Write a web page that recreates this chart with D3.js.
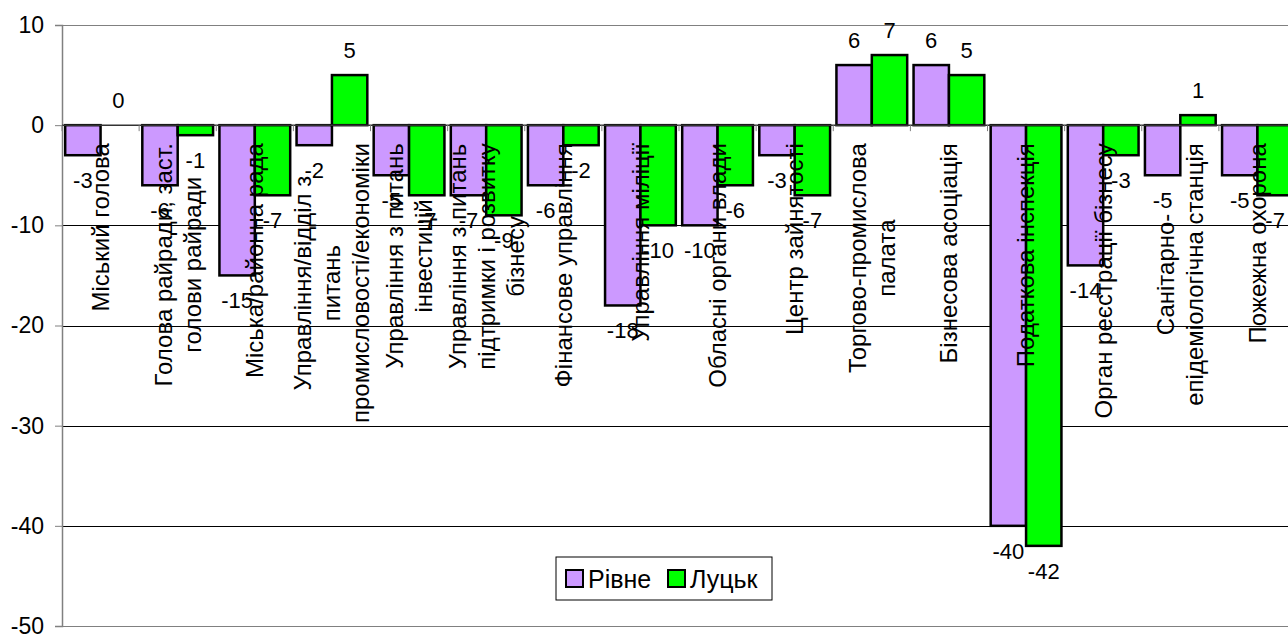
<!DOCTYPE html>
<html lang="uk">
<head>
    <meta charset="UTF-8">
    <title>Рівне / Луцьк</title>
    <script src="https://d3js.org/d3.v7.min.js"></script>
    <style>
        body { margin: 0; background: #fff; }
        svg { display: block; font-family: "Liberation Sans", Arial, sans-serif; }
        .grid line { stroke: #000; stroke-width: 1px; shape-rendering: crispEdges; }
        .bar { stroke: #000; stroke-width: 2.5px; }
        .ylab { font-size: 23px; fill: #000; }
        .cat { font-size: 24px; fill: #000; }
        .val { font-size: 22px; fill: #000; }
        .leg { font-size: 25px; fill: #000; }
    </style>
</head>
<body>
    <div id="chart"></div>

    <script>
        // categories, one array of lines for each label
        const categories = [
            ["Міський голова"],
            ["Голова райради, заст.", "голови райради"],
            ["Міська/районна рада"],
            ["Управління/відділ з", "питань", "промисловості/економіки"],
            ["Управління з питань", "інвестицій"],
            ["Управління з питань", "підтримки і розвитку", "бізнесу"],
            ["Фінансове управління"],
            ["Управління міліції"],
            ["Обласні органи влади"],
            ["Центр зайнятості"],
            ["Торгово-промислова", "палата"],
            ["Бізнесова асоціація"],
            ["Податкова інспекція"],
            ["Орган реєстрації бізнесу"],
            ["Санітарно-", "епідеміологічна станція"],
            ["Пожежна охорона"]
        ];
        const seriesNames = ["Рівне", "Луцьк"];
        const rivne = [-3, -6, -15, -2, -5, -7, -6, -18, -10, -3, 6, 6, -40, -14, -5, -5];
        const lutsk = [0, -1, -7, 5, -7, -9, -2, -10, -6, -7, 7, 5, -42, -3, 1, -7];
        const yTicks = [10, 0, -10, -20, -30, -40, -50];
        const colors = ["#CC99FF", "#00FF00"];

        const width = 1288, height = 635;
        const margin = {top: 25, left: 62, bottom: 9};
        const plotRight = 1296;

        const svg = d3.select("#chart").append("svg")
            .attr("width", width)
            .attr("height", height);

        const y = d3.scaleLinear().domain([-50, 10]).range([height - margin.bottom, margin.top]);
        const x0 = d3.scaleBand().domain(d3.range(categories.length)).range([margin.left, plotRight]);
        const x1 = d3.scaleBand().domain(seriesNames)
            .range([0, x0.bandwidth()]).paddingOuter(0.09);

        // gridlines
        svg.append("g").attr("class", "grid")
            .selectAll("line").data(yTicks).enter().append("line")
            .attr("x1", margin.left).attr("x2", plotRight)
            .attr("y1", d => Math.round(y(d)) + 0.5).attr("y2", d => Math.round(y(d)) + 0.5)
            .style("stroke", d => (d === 10 || d === -50) ? "#808080" : "#000");

        // bars
        const rows = categories.map((c, i) => ({i: i, vals: [rivne[i], lutsk[i]]}));
        const group = svg.selectAll(".cg").data(rows).enter().append("g")
            .attr("transform", d => "translate(" + x0(d.i) + ",0)");

        group.selectAll("rect")
            .data(d => d.vals.map((v, k) => ({v: v, k: k})))
            .enter().append("rect")
            .attr("class", "bar")
            .attr("x", d => x1(seriesNames[d.k]))
            .attr("width", x1.bandwidth())
            .attr("y", d => y(Math.max(0, d.v)))
            .attr("height", d => Math.abs(y(d.v) - y(0)))
            .attr("fill", d => colors[d.k]);

        // y axis (plain hyphen for negatives, like the original)
        const yAxis = d3.axisLeft(y).tickValues(yTicks).tickSize(7).tickPadding(11)
            .tickFormat(d => String(d));
        const ya = svg.append("g")
            .attr("transform", "translate(" + margin.left + ",0)")
            .call(yAxis);
        ya.select(".domain").attr("stroke", "#808080").attr("stroke-width", 1.5);
        ya.selectAll(".tick line").attr("stroke", "#808080");
        ya.selectAll(".tick text").attr("class", "ylab").attr("font-family", null).attr("font-size", null);

        // category axis at zero
        svg.append("line")
            .attr("x1", margin.left).attr("x2", plotRight)
            .attr("y1", y(0)).attr("y2", y(0))
            .attr("stroke", "#333").attr("stroke-width", 1.5);
        svg.selectAll(".ctick").data(d3.range(categories.length + 1)).enter().append("line")
            .attr("x1", d => margin.left + d * x0.step()).attr("x2", d => margin.left + d * x0.step())
            .attr("y1", y(0)).attr("y2", y(0) + 6)
            .attr("stroke", "#808080");

        // category labels, rotated, lines centred on each other
        const labelTop = y(0) + 18;
        const lineH = 29;
        categories.forEach(function(lines, i) {
            const g = svg.append("g")
                .attr("transform", "translate(" + (x0(i) + x0.bandwidth() / 2) + "," + labelTop + ") rotate(-90)");
            const t = g.append("text").attr("class", "cat");
            const spans = lines.map(function(s, j) {
                return t.append("tspan")
                    .attr("y", (j - (lines.length - 1) / 2) * lineH)
                    .attr("dy", "0.35em")
                    .attr("text-anchor", "middle")
                    .text(s);
            });
            const w = d3.max(spans, s => s.node().getComputedTextLength());
            spans.forEach(s => s.attr("x", -w / 2));
        });

        // value labels
        group.selectAll(".val")
            .data(d => d.vals.map((v, k) => ({v: v, k: k})))
            .enter().append("text")
            .attr("class", "val")
            .attr("text-anchor", "middle")
            .attr("x", d => x1(seriesNames[d.k]) + x1.bandwidth() / 2)
            .attr("y", d => d.v >= 0 ? y(d.v) - 25 : y(d.v) + 25)
            .attr("dy", "0.35em")
            .text(d => d.v);

        // legend
        const leg = svg.append("g").attr("transform", "translate(556,557)");
        leg.append("rect").attr("width", 216).attr("height", 43)
            .attr("fill", "#fff").attr("stroke", "#000");
        const items = leg.selectAll(".li").data(seriesNames).enter().append("g")
            .attr("transform", (d, i) => "translate(" + (10 + i * 102) + ",13)");
        items.append("rect").attr("width", 17).attr("height", 17)
            .attr("fill", (d, i) => colors[i]).attr("stroke", "#000").attr("stroke-width", 2);
        items.append("text").attr("class", "leg")
            .attr("x", 22).attr("y", 9).attr("dy", "0.35em")
            .text(d => d);
    </script>
</body>
</html>
